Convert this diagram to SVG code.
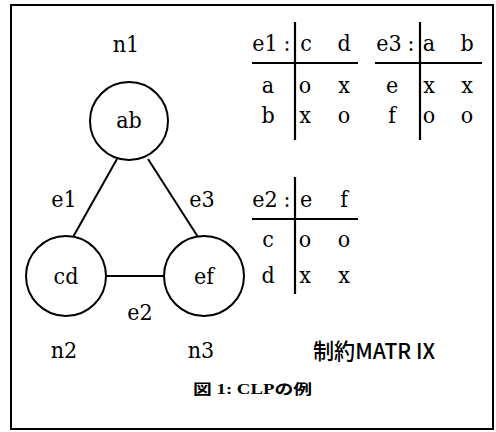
<svg xmlns="http://www.w3.org/2000/svg" width="496" height="432" viewBox="0 0 496 432">
<style>
.t{font-family:"DejaVu Serif Condensed","DejaVu Serif","Noto Sans CJK JP",serif;font-stretch:condensed;font-size:23px;fill:#000;text-anchor:middle}
.n{fill:#fff;stroke:#000;stroke-width:2}
.e{stroke:#000;stroke-width:2;fill:none}
.g{stroke:#000;stroke-width:2.2;fill:none}
.cap{font-family:"Liberation Serif","Noto Sans CJK JP",serif;font-size:14px;font-weight:bold;fill:#000}
.m{font-family:"Noto Sans CJK JP","Liberation Sans",sans-serif;font-size:22px;font-weight:500;fill:#000}
</style>
<rect x="11" y="5" width="482" height="424" fill="#fff" stroke="#000" stroke-width="2"/>
<g id="connectors">
<line class="e" x1="117" y1="159" x2="73" y2="237"/>
<line class="e" x1="148" y1="159" x2="198" y2="237"/>
<line class="e" x1="106" y1="276" x2="166" y2="276" stroke-width="1.5"/>
<text class="t" x="64" y="207">e1</text>
<text class="t" x="202" y="207">e3</text>
<text class="t" x="140" y="320">e2</text>
</g>
<g id="n1">
<text class="t" x="126" y="52">n1</text>
<circle class="n" cx="129" cy="121" r="39"/>
<text class="t" x="129" y="128">ab</text>
</g>
<g id="n2">
<circle class="n" cx="66" cy="276" r="40"/>
<text class="t" x="66" y="284">cd</text>
<text class="t" x="64" y="358">n2</text>
</g>
<g id="n3">
<circle class="n" cx="204" cy="276" r="40"/>
<text class="t" x="204" y="284">ef</text>
<text class="t" x="201" y="358">n3</text>
</g>
<g id="table-e1">
<text class="t" x="265" y="51">e1</text>
<text class="t" x="287" y="51">:</text>
<line class="g" x1="295" y1="22" x2="295" y2="140"/>
<line class="g" x1="252" y1="63" x2="358" y2="63"/>
<text class="t" x="306" y="51">c</text>
<text class="t" x="344" y="51">d</text>
<text class="t" x="268" y="93">a</text>
<text class="t" x="305" y="93">o</text>
<text class="t" x="344" y="93">x</text>
<text class="t" x="268" y="123">b</text>
<text class="t" x="305" y="123">x</text>
<text class="t" x="344" y="123">o</text>
</g>
<g id="table-e3">
<text class="t" x="389" y="51">e3</text>
<text class="t" x="411" y="51">:</text>
<line class="g" x1="420" y1="22" x2="420" y2="140"/>
<line class="g" x1="375" y1="63" x2="482" y2="63"/>
<text class="t" x="429" y="51">a</text>
<text class="t" x="467" y="51">b</text>
<text class="t" x="392" y="93">e</text>
<text class="t" x="429" y="93">x</text>
<text class="t" x="467" y="93">x</text>
<text class="t" x="392" y="123">f</text>
<text class="t" x="429" y="123">o</text>
<text class="t" x="467" y="123">o</text>
</g>
<g id="table-e2">
<text class="t" x="265" y="207">e2</text>
<text class="t" x="287" y="207">:</text>
<line class="g" x1="295" y1="177" x2="295" y2="294"/>
<line class="g" x1="252" y1="219" x2="358" y2="219"/>
<text class="t" x="306" y="207">e</text>
<text class="t" x="344" y="207">f</text>
<text class="t" x="268" y="247">c</text>
<text class="t" x="305" y="247">o</text>
<text class="t" x="344" y="247">o</text>
<text class="t" x="268" y="283">d</text>
<text class="t" x="305" y="283">x</text>
<text class="t" x="344" y="283">x</text>
</g>
<text class="m" x="313" y="359" textLength="122" lengthAdjust="spacingAndGlyphs">制約MATR IX</text>
<text class="cap" x="193" y="394" textLength="119" lengthAdjust="spacingAndGlyphs">図 1: CLPの例</text>
</svg>
